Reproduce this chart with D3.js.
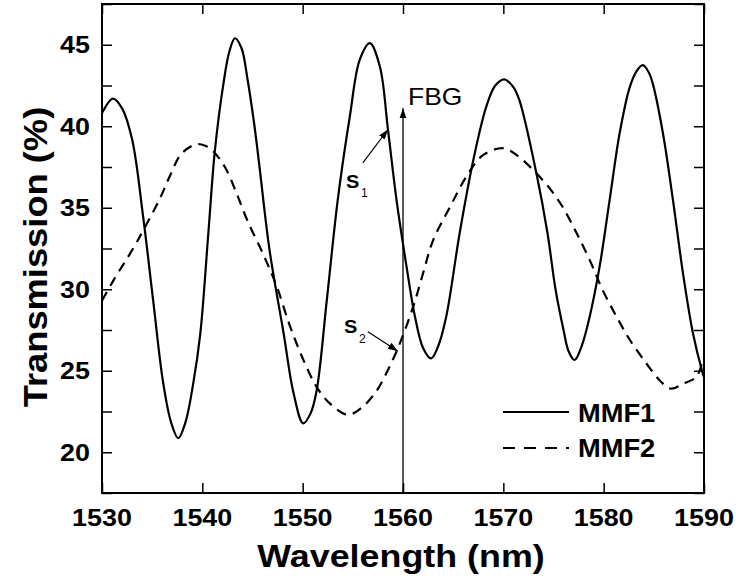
<!DOCTYPE html>
<html>
<head>
<meta charset="utf-8">
<script src="https://cdn.jsdelivr.net/npm/d3@7"></script>
<style>
  html, body { margin: 0; padding: 0; background: #fff; }
  svg { display: block; }
  text { font-family: "Liberation Sans", Arial, sans-serif; fill: #000; }
</style>
</head>
<body>
<svg id="chart" width="736" height="576"></svg>
<script>
// ---- data ----
const xTicks = [1530, 1540, 1550, 1560, 1570, 1580, 1590];
const yTicks = [20, 25, 30, 35, 40, 45];
const yMinorTicks = [17.5, 20, 22.5, 25, 27.5, 30, 32.5, 35, 37.5, 40, 42.5, 45, 47.5];
const seriesNames = ["MMF1", "MMF2"];

const mmf1Wl = [1530.0, 1531.1, 1532.0, 1533.0, 1534.1, 1535.1, 1536.1, 1536.9, 1537.6, 1538.3, 1539.1, 1539.8,
  1540.6, 1541.25, 1542.1, 1542.7, 1543.25, 1543.9, 1544.5, 1545.2, 1545.7, 1546.7, 1548.1, 1549.1, 1550.05,
  1550.8, 1551.4, 1552.4, 1553.5, 1554.7, 1555.7, 1556.7, 1557.7, 1558.5, 1559.35, 1560.35, 1561.2, 1562.0,
  1562.8, 1563.5, 1564.3, 1565.65, 1567.0, 1568.3, 1569.2, 1570.1, 1571.0, 1571.6, 1573.3, 1574.4, 1575.2,
  1576.0, 1576.5, 1577.1, 1577.8, 1578.6, 1579.6, 1580.6, 1581.6, 1582.6, 1583.3, 1583.9, 1584.5, 1584.9,
  1585.9, 1586.9, 1587.9, 1588.9, 1589.8, 1590.0];
const mmf1T = [40.8, 41.7, 41.1, 39.2, 34.45, 29.3, 24.25, 21.8, 20.86, 21.8, 24.25, 27.3,
  33.45, 38.5, 42.6, 44.6, 45.4, 44.8, 42.9, 40.0, 37.5, 32.4, 27.3, 23.6, 21.77,
  22.4, 23.8, 29.3, 35.5, 40.6, 44.1, 45.1, 43.65, 39.8, 35.5, 31.4, 28.3, 26.4,
  25.76, 26.5, 28.3, 33.45, 37.9, 41.2, 42.5, 42.88, 42.4, 41.6, 37.1, 33.45, 30.0,
  27.5, 26.2, 25.66, 26.5, 28.3, 31.4, 35.5, 39.6, 42.4, 43.4, 43.75, 43.3, 42.6,
  39.6, 35.5, 31.0, 27.3, 25.0, 24.6];

const mmf2Wl = [1530.0, 1531.1, 1533.1, 1534.1, 1535.8, 1536.8, 1537.9, 1539.4, 1540.3, 1541.1, 1542.25,
  1543.4, 1544.5, 1546.1, 1547.4, 1548.7, 1550.05, 1551.4, 1552.7, 1554.5, 1556.0, 1557.4, 1558.5, 1559.5,
  1561.0, 1562.0, 1563.0, 1564.7, 1566.3, 1568.0, 1570.0, 1571.3, 1573.0, 1574.6, 1575.9, 1577.3, 1578.6,
  1579.9, 1581.3, 1582.6, 1584.25, 1585.6, 1586.7, 1587.9, 1589.2, 1589.8];
const mmf2T = [29.3, 30.5, 32.5, 33.6, 35.6, 37.0, 38.3, 38.9, 38.8, 38.45, 37.5,
  35.9, 34.2, 32.1, 30.2, 27.8, 25.7, 24.0, 23.0, 22.3, 22.8, 23.8, 25.05, 26.4,
  28.9, 30.98, 33.0, 35.06, 36.9, 38.24, 38.65, 38.24, 37.3, 36.2, 35.06, 33.45, 31.8,
  29.95, 28.3, 26.9, 25.46, 24.4, 23.9, 24.2, 24.6, 25.46];

// annotation anchors (data coordinates)
const fbgWl = 1560, fbgTop = 41.1;
const s1From = [1556.0, 37.75], s1To = [1558.5, 39.8];
const s2From = [1556.5, 27.4], s2To = [1559.5, 26.2];

// ---- layout ----
const W = 736, H = 576;
const L = 102, R = 704, T = 4, B = 493;
const svg = d3.select("#chart");
const x = d3.scaleLinear().domain([1530, 1590]).range([L, R]);
const y = d3.scaleLinear().domain([17.5, 47.5]).range([B, T]);
const SX = 1.12; // horizontal text stretch

function stext(g, px, py, str, size, anchor, weight, sx) {
  const gg = g.append("g").attr("transform", `translate(${px},${py}) scale(${sx || SX},1)`);
  return gg.append("text").attr("x", 0).attr("y", 0)
    .attr("text-anchor", anchor).attr("font-size", size)
    .attr("font-weight", weight).text(str);
}

svg.append("defs").append("marker")
  .attr("id", "ah").attr("viewBox", "0 0 10 10").attr("refX", 10).attr("refY", 5)
  .attr("markerWidth", 10).attr("markerHeight", 10).attr("markerUnits", "userSpaceOnUse")
  .attr("orient", "auto")
  .append("path").attr("d", "M0,1.5 L10,5 L0,8.5 Z").attr("fill", "#000");

// curves
const line = d3.line().x(d => x(d[0])).y(d => y(d[1])).curve(d3.curveCatmullRom.alpha(0.5));
const d1 = mmf1Wl.map((w, i) => [w, mmf1T[i]]);
const d2 = mmf2Wl.map((w, i) => [w, mmf2T[i]]);
svg.append("path").attr("d", line(d2)).attr("fill", "none").attr("stroke", "#000")
  .attr("stroke-width", 2.2).attr("stroke-dasharray", "10,7");
svg.append("path").attr("d", line(d1)).attr("fill", "none").attr("stroke", "#000")
  .attr("stroke-width", 2.2);

// axes (ticks inward on all four sides)
const tickLen = 10;
const axB = svg.append("g").attr("transform", `translate(0,${B})`)
  .call(d3.axisBottom(x).tickValues(xTicks).tickSizeInner(-tickLen).tickSizeOuter(0).tickFormat(""));
const axT = svg.append("g").attr("transform", `translate(0,${T})`)
  .call(d3.axisTop(x).tickValues(xTicks).tickSizeInner(-tickLen).tickSizeOuter(0).tickFormat(""));
const axL = svg.append("g").attr("transform", `translate(${L},0)`)
  .call(d3.axisLeft(y).tickValues(yMinorTicks).tickSizeInner(-tickLen).tickSizeOuter(0).tickFormat(""));
const axR = svg.append("g").attr("transform", `translate(${R},0)`)
  .call(d3.axisRight(y).tickValues(yMinorTicks).tickSizeInner(-tickLen).tickSizeOuter(0).tickFormat(""));
[axB, axT, axL, axR].forEach(a => {
  a.select(".domain").remove();
  a.selectAll(".tick line").attr("stroke", "#000").attr("stroke-width", 1.5);
});
svg.append("rect").attr("x", L).attr("y", T).attr("width", R - L).attr("height", B - T)
  .attr("fill", "none").attr("stroke", "#000").attr("stroke-width", 2);

// tick labels
const lab = svg.append("g");
xTicks.forEach(v => stext(lab, x(v), 526, String(v), 24, "middle", "bold"));
yTicks.forEach(v => stext(lab, 90, y(v) + 8.5, String(v), 24, "end", "bold"));

// axis titles
stext(svg, 401, 567, "Wavelength (nm)", 32, "middle", "bold");
svg.append("g").attr("transform", `translate(47,257) rotate(-90) scale(1.1,1)`)
  .append("text").attr("text-anchor", "middle").attr("font-size", 33).attr("font-weight", "bold")
  .text("Transmission (%)");

// FBG arrow
svg.append("line").attr("x1", x(fbgWl)).attr("x2", x(fbgWl)).attr("y1", B).attr("y2", y(fbgTop))
  .attr("stroke", "#000").attr("stroke-width", 1.3).attr("marker-end", "url(#ah)");
stext(svg, x(fbgWl) + 5, 105, "FBG", 23, "start", "normal", 1.15);

// S1 / S2 arrows
svg.append("line").attr("x1", x(s1From[0])).attr("y1", y(s1From[1]))
  .attr("x2", x(s1To[0])).attr("y2", y(s1To[1]))
  .attr("stroke", "#000").attr("stroke-width", 1.2).attr("marker-end", "url(#ah)");
svg.append("line").attr("x1", x(s2From[0])).attr("y1", y(s2From[1]))
  .attr("x2", x(s2To[0])).attr("y2", y(s2To[1]))
  .attr("stroke", "#000").attr("stroke-width", 1.2).attr("marker-end", "url(#ah)");
stext(svg, 346, 188, "S", 19, "start", "bold", 1.05);
stext(svg, 361, 197, "1", 12, "start", "normal", 1.0);
stext(svg, 344, 333, "S", 19, "start", "bold", 1.05);
stext(svg, 359, 343, "2", 12, "start", "normal", 1.0);

// legend
const leg = svg.append("g");
leg.append("line").attr("x1", 503).attr("x2", 569).attr("y1", 412).attr("y2", 412)
  .attr("stroke", "#000").attr("stroke-width", 2);
leg.append("line").attr("x1", 503).attr("x2", 569).attr("y1", 448).attr("y2", 448)
  .attr("stroke", "#000").attr("stroke-width", 2).attr("stroke-dasharray", "12,9");
stext(leg, 578, 422, seriesNames[0], 26, "start", "bold", 1.05);
stext(leg, 578, 457, seriesNames[1], 26, "start", "bold", 1.05);
</script>
</body>
</html>
